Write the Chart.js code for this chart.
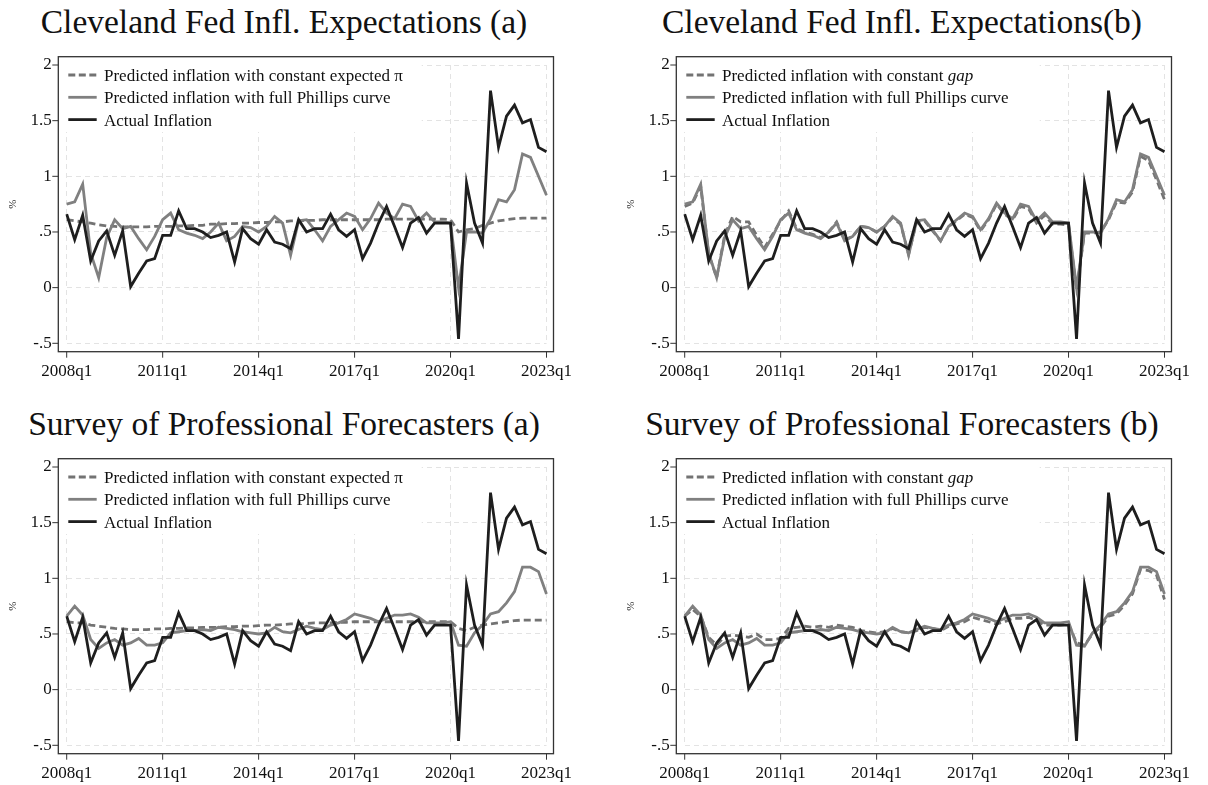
<!DOCTYPE html>
<html>
<head>
<meta charset="utf-8">
<script src="https://cdn.jsdelivr.net/npm/chart.js@4.4.1/dist/chart.umd.min.js"></script>
<style>
  html, body { margin: 0; padding: 0; background: #fff; }
  body { width: 1208px; height: 785px; position: relative; overflow: hidden; }
  .panel { position: absolute; width: 590px; height: 392px; }
  .panel h2 {
    position: absolute; left: 0; top: 5px; width: 568px; margin: 0;
    text-align: center; white-space: nowrap; color: #111;
    font: 400 33.5px/1 "Liberation Serif", serif;
  }
  .panel canvas { position: absolute; left: 0; top: 0; }
</style>
</head>
<body>
<div class="panel" style="left:0;top:0"><h2>Cleveland Fed Infl. Expectations (a)</h2><canvas id="cfA" width="590" height="392"></canvas></div>
<div class="panel" style="left:618px;top:0"><h2>Cleveland Fed Infl. Expectations(b)</h2><canvas id="cfB" width="590" height="392"></canvas></div>
<div class="panel" style="left:0;top:402px"><h2>Survey of Professional Forecasters (a)</h2><canvas id="spfA" width="590" height="392"></canvas></div>
<div class="panel" style="left:618px;top:402px"><h2>Survey of Professional Forecasters (b)</h2><canvas id="spfB" width="590" height="392"></canvas></div>
<script>
// quarters 2008q1 .. 2023q1
const quarters = [];
for (let yr = 2008; yr <= 2023; yr++) {
  for (let q = 1; q <= 4; q++) {
    if (yr < 2023 || q === 1) quarters.push(yr + 'q' + q);
  }
}
const xTickStep = 12;
const yTickValues = [-0.5, 0, 0.5, 1, 1.5, 2];
const yTickLabels = ['-.5', '0', '.5', '1', '1.5', '2'];

const actualInflation = [
  0.66, 0.43, 0.65, 0.24, 0.42, 0.51, 0.29, 0.51, 0.01, 0.13,
  0.24, 0.26, 0.47, 0.47, 0.69, 0.53, 0.53, 0.50, 0.45, 0.47,
  0.50, 0.23, 0.53, 0.44, 0.39, 0.52, 0.41, 0.39, 0.35, 0.61,
  0.50, 0.53, 0.53, 0.66, 0.52, 0.46, 0.52, 0.26, 0.40, 0.58,
  0.73, 0.55, 0.36, 0.58, 0.63, 0.49, 0.58, 0.58, 0.58, -0.46,
  0.94, 0.58, 0.40, 1.77, 1.26, 1.54, 1.64, 1.48, 1.51, 1.26,
  1.22
];

const clevelandConstExp = [
  0.61, 0.60, 0.59, 0.58, 0.565, 0.555, 0.55, 0.545, 0.545, 0.545,
  0.545, 0.55, 0.55, 0.55, 0.555, 0.555, 0.56, 0.56, 0.57, 0.57,
  0.575, 0.575, 0.58, 0.58, 0.585, 0.585, 0.59, 0.59, 0.60, 0.60,
  0.605, 0.605, 0.61, 0.61, 0.61, 0.61, 0.61, 0.61, 0.61, 0.61,
  0.615, 0.615, 0.615, 0.615, 0.615, 0.615, 0.615, 0.615, 0.61, 0.50,
  0.52, 0.53, 0.56, 0.58, 0.60, 0.61, 0.62, 0.625, 0.625, 0.625,
  0.625
];

const clevelandFullPC = [
  0.75, 0.77, 0.93, 0.31, 0.09, 0.45, 0.61, 0.53, 0.55, 0.44,
  0.34, 0.46, 0.61, 0.67, 0.52, 0.49, 0.47, 0.44, 0.50, 0.58,
  0.42, 0.46, 0.55, 0.54, 0.50, 0.55, 0.64, 0.58, 0.29, 0.60,
  0.61, 0.52, 0.42, 0.55, 0.61, 0.67, 0.64, 0.52, 0.62, 0.76,
  0.67, 0.62, 0.75, 0.73, 0.60, 0.67, 0.59, 0.59, 0.58, 0.00,
  0.50, 0.50, 0.49, 0.62, 0.79, 0.77, 0.88, 1.20, 1.17, 1.00,
  0.83
];

const clevelandConstGap = [
  0.73, 0.76, 0.91, 0.30, 0.09, 0.47, 0.64, 0.59, 0.59, 0.47,
  0.36, 0.48, 0.60, 0.69, 0.53, 0.50, 0.48, 0.45, 0.50, 0.59,
  0.43, 0.46, 0.55, 0.54, 0.50, 0.55, 0.63, 0.57, 0.30, 0.59,
  0.60, 0.51, 0.42, 0.55, 0.60, 0.66, 0.63, 0.51, 0.61, 0.75,
  0.66, 0.61, 0.73, 0.71, 0.58, 0.65, 0.57, 0.57, 0.56, -0.02,
  0.49, 0.49, 0.50, 0.61, 0.77, 0.76, 0.86, 1.18, 1.14, 0.97,
  0.79
];

const spfConstExp = [
  0.61, 0.60, 0.60, 0.58, 0.57, 0.56, 0.55, 0.545, 0.54, 0.54,
  0.54, 0.545, 0.545, 0.55, 0.55, 0.555, 0.555, 0.56, 0.56, 0.56,
  0.565, 0.565, 0.57, 0.57, 0.575, 0.58, 0.58, 0.585, 0.59, 0.59,
  0.595, 0.60, 0.60, 0.60, 0.605, 0.605, 0.61, 0.61, 0.61, 0.61,
  0.61, 0.61, 0.61, 0.61, 0.61, 0.61, 0.61, 0.61, 0.61, 0.55,
  0.53, 0.56, 0.58, 0.59, 0.60, 0.61, 0.62, 0.625, 0.625, 0.625,
  0.625
];

const spfFullPC = [
  0.66, 0.75, 0.67, 0.45, 0.37, 0.42, 0.45, 0.40, 0.42, 0.46,
  0.40, 0.40, 0.42, 0.51, 0.52, 0.53, 0.53, 0.54, 0.53, 0.56,
  0.55, 0.54, 0.52, 0.51, 0.50, 0.51, 0.56, 0.52, 0.51, 0.54,
  0.57, 0.55, 0.54, 0.58, 0.60, 0.63, 0.68, 0.66, 0.64, 0.61,
  0.64, 0.67, 0.67, 0.68, 0.65, 0.60, 0.60, 0.60, 0.61, 0.40,
  0.39, 0.51, 0.58, 0.68, 0.70, 0.78, 0.88, 1.10, 1.10, 1.06,
  0.86
];

const spfConstGap = [
  0.66, 0.72, 0.66, 0.47, 0.40, 0.48, 0.49, 0.48, 0.47, 0.50,
  0.45, 0.45, 0.46, 0.55, 0.56, 0.57, 0.56, 0.57, 0.56, 0.58,
  0.57, 0.56, 0.53, 0.52, 0.51, 0.52, 0.55, 0.52, 0.51, 0.53,
  0.56, 0.55, 0.53, 0.57, 0.59, 0.61, 0.65, 0.63, 0.61, 0.59,
  0.61, 0.64, 0.64, 0.65, 0.62, 0.58, 0.58, 0.58, 0.59, 0.42,
  0.40, 0.50, 0.56, 0.66, 0.68, 0.76, 0.86, 1.08, 1.07, 1.03,
  0.81
];

const labelConstExp = 'Predicted inflation with constant expected \u03c0';
const labelConstGap = 'Predicted inflation with constant ';
const labelFull = 'Predicted inflation with full Phillips curve';
const labelActual = 'Actual Inflation';

const FONT = '"Liberation Serif", "Times New Roman", serif';
Chart.defaults.font.family = FONT;
Chart.defaults.color = '#111';

function makeDatasets(constSeries, constLabel, italicWord, fullSeries) {
  return [
    { label: constLabel, italicWord: italicWord, data: constSeries, borderColor: '#737373', borderDash: [7, 4], legendDash: [7, 3.5], order: 2 },
    { label: labelFull, data: fullSeries, borderColor: '#808080', order: 1 },
    { label: labelActual, data: actualInflation, borderColor: '#1e1e1e', order: 0 }
  ].map(d => Object.assign({ borderWidth: 2.8, pointRadius: 0, tension: 0, fill: false }, d));
}

// Stata-like frame, outside tick marks and in-plot legend box
const stataBox = {
  id: 'stataBox',
  beforeDatasetsDraw(chart) {
    const { ctx, chartArea: a } = chart;
    ctx.save();
    ctx.fillStyle = '#fff';
    ctx.fillRect(a.left - 8, a.top - 8, 363, 75);
    ctx.textBaseline = 'middle';
    chart.data.datasets.forEach((ds, k) => {
      const yLine = a.top + 10 + k * 22.3;
      const yText = a.top + 11.7 + k * 22.3;
      ctx.strokeStyle = ds.borderColor;
      ctx.lineWidth = ds.borderWidth;
      ctx.setLineDash(ds.legendDash || []);
      ctx.beginPath();
      ctx.moveTo(a.left + 1.6, yLine);
      ctx.lineTo(a.left + 30, yLine);
      ctx.stroke();
      ctx.setLineDash([]);
      ctx.fillStyle = '#111';
      ctx.font = '17px ' + FONT;
      ctx.fillText(ds.label, a.left + 37.3, yText);
      if (ds.italicWord) {
        const w = ctx.measureText(ds.label).width;
        ctx.font = 'italic 17px ' + FONT;
        ctx.fillText(ds.italicWord, a.left + 37.3 + w, yText);
      }
    });
    ctx.restore();
  },
  afterDraw(chart) {
    const { ctx, chartArea: a, scales } = chart;
    const fL = a.left - 8.4, fR = a.right + 7, fT = a.top - 8.3, fB = a.bottom + 8.4;
    ctx.save();
    ctx.strokeStyle = '#333';
    ctx.lineWidth = 1.3;
    ctx.strokeRect(fL, fT, fR - fL, fB - fT);
    ctx.lineWidth = 1;
    ctx.beginPath();
    scales.y.ticks.forEach(t => {
      const py = scales.y.getPixelForValue(t.value);
      ctx.moveTo(fL - 6, py);
      ctx.lineTo(fL, py);
    });
    quarters.forEach((q, i) => {
      if (i % xTickStep !== 0) return;
      const px = scales.x.getPixelForValue(i);
      ctx.moveTo(px, fB);
      ctx.lineTo(px, fB + 6);
    });
    ctx.stroke();
    ctx.restore();
  }
};

function drawPanel(id, datasets) {
  return new Chart(document.getElementById(id), {
    type: 'line',
    data: { labels: quarters, datasets: datasets },
    options: {
      responsive: false,
      animation: false,
      devicePixelRatio: 1,
      layout: { padding: { top: 65, left: 0, right: 34.3, bottom: 0 } },
      plugins: { legend: { display: false }, tooltip: { enabled: false }, title: { display: false } },
      scales: {
        x: {
          type: 'category',
          grid: {
            drawTicks: false,
            lineWidth: 1,
            color: c => (c.index % xTickStep === 0 ? '#e3e3e3' : 'rgba(0,0,0,0)')
          },
          border: { display: false, dash: [5, 4] },
          ticks: {
            autoSkip: false, maxRotation: 0, minRotation: 0, padding: 18,
            font: { size: 17 }, color: '#111',
            callback: (v, i) => (i % xTickStep === 0 ? quarters[i] : '')
          },
          afterFit: s => { s.height = 48.7; }
        },
        y: {
          type: 'linear',
          min: -0.5,
          max: 2,
          grid: { drawTicks: false, lineWidth: 1, color: '#e3e3e3' },
          border: { display: false, dash: [5, 4] },
          ticks: {
            stepSize: 0.5, padding: 15, font: { size: 17 }, color: '#111',
            callback: v => {
              const k = yTickValues.findIndex(t => Math.abs(t - v) < 1e-6);
              return k < 0 ? '' : yTickLabels[k];
            }
          },
          title: { display: true, text: '%', font: { size: 11 }, color: '#222', padding: { top: 7, bottom: 0 } },
          afterFit: s => { s.width = 66.7; }
        }
      }
    },
    plugins: [stataBox]
  });
}

drawPanel('cfA', makeDatasets(clevelandConstExp, labelConstExp, null, clevelandFullPC));
drawPanel('cfB', makeDatasets(clevelandConstGap, labelConstGap, 'gap', clevelandFullPC));
drawPanel('spfA', makeDatasets(spfConstExp, labelConstExp, null, spfFullPC));
drawPanel('spfB', makeDatasets(spfConstGap, labelConstGap, 'gap', spfFullPC));
</script>
</body>
</html>
